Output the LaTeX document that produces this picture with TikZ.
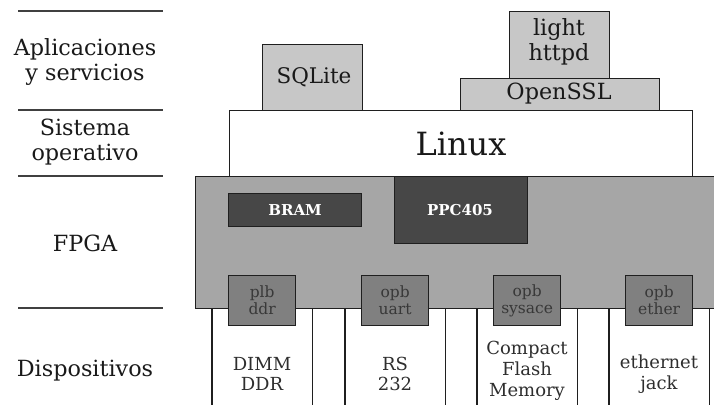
\documentclass[tikz,border=0pt]{standalone}
\usepackage{fontspec}
\setmainfont{DejaVu Serif}
\begin{document}
\begin{tikzpicture}[x=1pt,y=-1pt,
  ln/.style={line width=1.3pt, draw=black!88},
  box/.style={ln, rectangle, inner sep=0pt, anchor=north west},
  lightbox/.style={box, fill=black!22},
  darkbox/.style={box, fill=black!72},
  darktext/.style={text=white, font=\bfseries\fontsize{15}{17}\selectfont},
  ifbox/.style={box, fill=black!50, text=black!78, font=\fontsize{15.5}{17}\selectfont, align=center},
  lbl/.style={font=\fontsize{22.3}{25}\selectfont, align=center, text=black!90},
  dev/.style={font=\fontsize{18}{20.8}\selectfont, align=center, text=black!82},
  sep/.style={line width=1.3pt, draw=black!75}]
\useasboundingbox (0,0) rectangle (714,405);
% left separators
\coordinate (s1a) at (18,11); \coordinate (s1b) at (163,11);
\coordinate (s2a) at (18,110); \coordinate (s2b) at (163,110);
\coordinate (s3a) at (18,176); \coordinate (s3b) at (163,176);
\coordinate (s4a) at (18,308); \coordinate (s4b) at (163,308);
\draw[sep] (s1a)--(s1b) (s2a)--(s2b) (s3a)--(s3b) (s4a)--(s4b);
\node[lbl] (lapp) at (85,62) {Aplicaciones\\y servicios};
\node[lbl] (lso) at (85,142) {Sistema\\operativo};
\node[lbl] (lfpga) at (85,243) {FPGA};
\node[lbl] (ldev) at (85,371) {Dispositivos};
% device columns
\foreach \n/\x in {d1/212,d2/345,d3/477,d4/609}{
  \node[anchor=north west, minimum width=100pt, minimum height=100pt, inner sep=0pt] (\n) at (\x,305) {};
  \draw[ln] (\n.north west)--(\n.south west) (\n.north east)--(\n.south east);
}
% FPGA
\node[box, fill=black!35, minimum width=530pt, minimum height=132pt] (fpga) at (195,176) {};
\node[darkbox, minimum width=133pt, minimum height=33pt] (bram) at (228,193) {};
\node[darktext] (bramt) at (bram.center) {BRAM};
\node[darkbox, minimum width=133pt, minimum height=67pt] (ppc) at (394,176) {};
\node[darktext] (ppct) at (460,210) {PPC405};
\node[ifbox, minimum width=67pt, minimum height=50pt] (if1) at (228,275) {plb\\ddr};
\node[ifbox, minimum width=67pt, minimum height=50pt] (if2) at (361,275) {opb\\uart};
\node[ifbox, minimum width=67pt, minimum height=50pt] (if3) at (493,275) {opb\\sysace};
\node[ifbox, minimum width=67pt, minimum height=50pt] (if4) at (625,275) {opb\\ether};
% devices text
\node[dev] (t1) at (262,374) {DIMM\\DDR};
\node[dev] (t2) at (395,374) {RS\\232};
\node[dev] (t3) at (527,371) {Compact\\Flash\\Memory};
\node[dev] (t4) at (659,374) {ethernet\\jack};
% Linux
\node[box, fill=white, minimum width=463pt, minimum height=66pt] (linux) at (229,110) {};
\node[font=\fontsize{32}{36}\selectfont, text=black!90] (linuxt) at (461,144) {Linux};
% apps
\node[lightbox, minimum width=100pt, minimum height=66pt] (sqlite) at (262,44) {};
\node[lbl, font=\fontsize{21.5}{25}\selectfont] (sqlitet) at (314,77) {SQLite};
\node[lightbox, minimum width=199pt, minimum height=32pt] (ssl) at (460,78) {};
\node[lbl] (sslt) at (559,94) {OpenSSL};
\node[lightbox, minimum width=100pt, minimum height=67pt] (httpd) at (509,11) {};
\node[lbl] (httpdt) at (559,42) {light\\httpd};
\end{tikzpicture}
\end{document}
